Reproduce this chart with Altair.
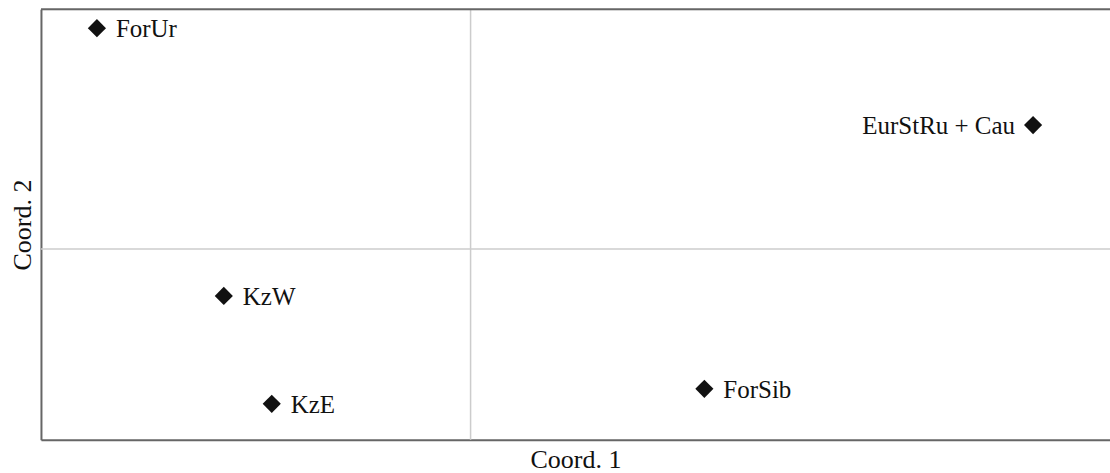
import altair as alt
import pandas as pd

labels = ["ForUr", "EurStRu + Cau", "KzW", "KzE", "ForSib"]
coord1 = [-0.374, 0.563, -0.247, -0.199, 0.234]
coord2 = [0.221, 0.124, -0.047, -0.155, -0.140]
label_side = ["right", "left", "right", "right", "right"]

df = pd.DataFrame({"label": labels, "c1": coord1, "c2": coord2, "side": label_side})

W, H = 1070, 431
FONT = "Liberation Serif"

xs = alt.Scale(domain=[-0.430, 0.640], nice=False, zero=False)
ys = alt.Scale(domain=[-0.191, 0.240], nice=False, zero=False)

base = alt.Chart(df)

xaxis = alt.Axis(title="Coord. 1", labels=False, ticks=False, grid=False,
                 domainColor="#666666", domainWidth=2, titleFont=FONT,
                 titleFontSize=26, titleFontWeight="normal", titleColor="#111111",
                 titlePadding=7)
yaxis = alt.Axis(title="Coord. 2", labels=False, ticks=False, grid=False,
                 domainColor="#666666", domainWidth=2, titleFont=FONT,
                 titleFontSize=26, titleFontWeight="normal", titleColor="#111111",
                 titlePadding=5)

zero_df = pd.DataFrame({"z": [0.0]})
vline = alt.Chart(zero_df).mark_rule(color="#cccccc", strokeWidth=1.5).encode(
    x=alt.X("z:Q", scale=xs, axis=xaxis))
hline = alt.Chart(zero_df).mark_rule(color="#cccccc", strokeWidth=1.5).encode(
    y=alt.Y("z:Q", scale=ys, axis=yaxis))
topline = alt.Chart(zero_df).mark_rule(color="#666666", strokeWidth=2).encode(
    x=alt.value(0), x2=alt.value(W), y=alt.value(0))

pts = base.mark_point(shape="diamond", filled=True, color="#111111", size=330, opacity=1).encode(
    x=alt.X("c1:Q", scale=xs), y=alt.Y("c2:Q", scale=ys))

txt_r = base.transform_filter(alt.datum.side == "right").mark_text(
    align="left", baseline="middle", dx=19, dy=1, font=FONT, fontSize=25, color="#111111").encode(
    x=alt.X("c1:Q", scale=xs), y=alt.Y("c2:Q", scale=ys), text="label:N")
txt_l = base.transform_filter(alt.datum.side == "left").mark_text(
    align="right", baseline="middle", dx=-18, dy=1, font=FONT, fontSize=25, color="#111111").encode(
    x=alt.X("c1:Q", scale=xs), y=alt.Y("c2:Q", scale=ys), text="label:N")

chart = alt.layer(vline, hline, topline, pts, txt_r, txt_l).properties(
    width=W, height=H,
    autosize=alt.AutoSizeParams(type="none"),
    padding={"left": 41, "top": 9, "right": 0, "bottom": 33},
).configure_view(stroke=None).configure(background="white")

chart.save("out.html", embed_options={"renderer": "svg", "actions": False})
